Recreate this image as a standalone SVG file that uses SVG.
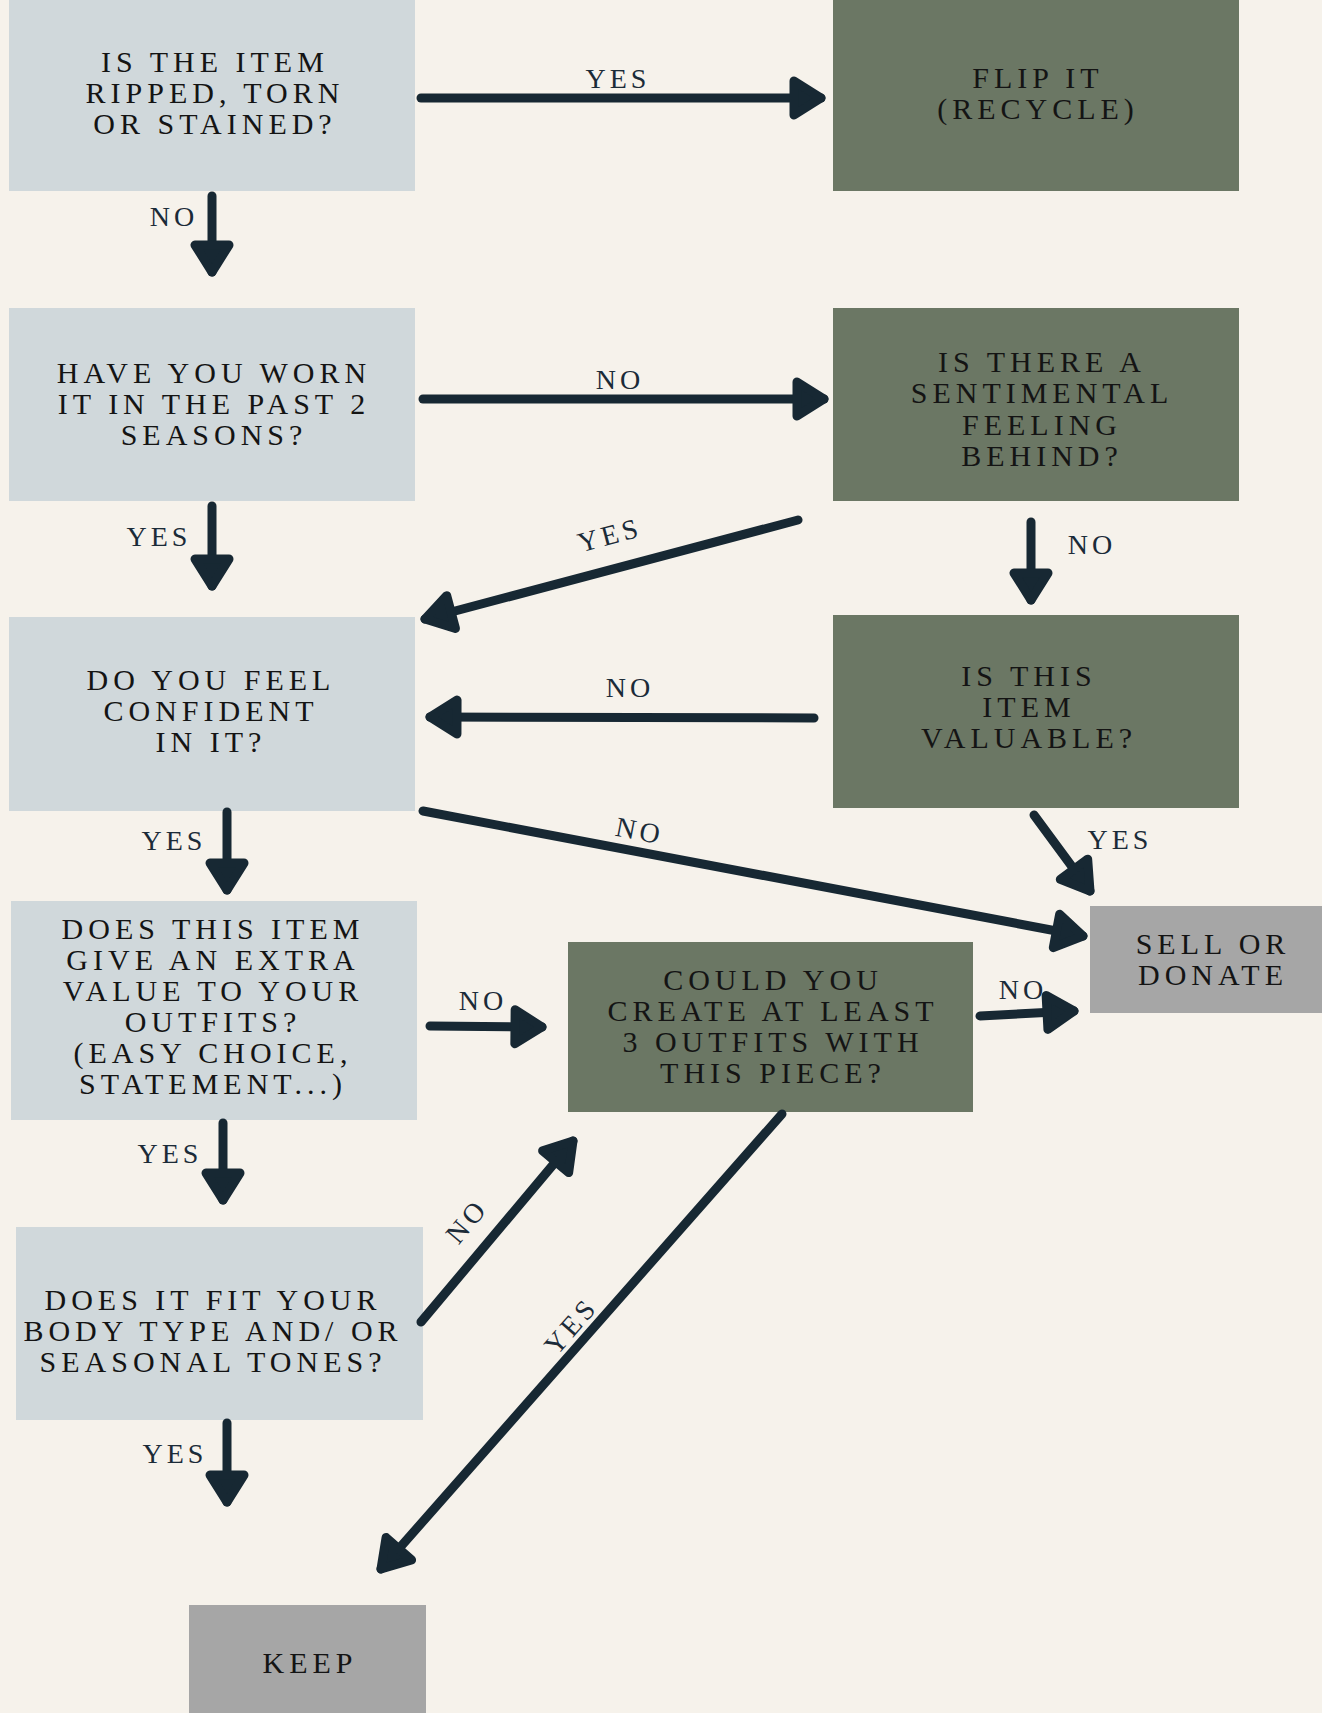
<svg xmlns="http://www.w3.org/2000/svg" width="1322" height="1713" viewBox="0 0 1322 1713">
<style>
.bg{fill:#F6F2EB}
.q{fill:#D0D8DB}
.g{fill:#6B7764}
.e{fill:#A6A6A6}
.t{font-family:"Liberation Serif","DejaVu Serif",serif;font-size:30px;letter-spacing:5px;fill:#141414;text-anchor:middle}
.l{font-family:"Liberation Serif","DejaVu Serif",serif;font-size:28px;letter-spacing:4px;fill:#1B2B38;text-anchor:middle}
.c{stroke:#172833;stroke-width:9;stroke-linecap:round;fill:none}
</style>
<defs>
<marker id="ah" markerUnits="userSpaceOnUse" markerWidth="60" markerHeight="60" viewBox="-40 -30 50 60" refX="0" refY="0" orient="auto" overflow="visible">
<path d="M -27 -17 L 0 0 L -27 17 Z" fill="#172833" stroke="#172833" stroke-width="9" stroke-linejoin="round"/>
</marker>
</defs>
<rect class="bg" x="0" y="0" width="1322" height="1713"/>

<g id="n1"><rect class="q" x="9" y="0" width="406" height="191"/>
<text class="t" x="215" y="72">IS THE ITEM</text><text class="t" x="215" y="103">RIPPED, TORN</text><text class="t" x="215" y="134">OR STAINED?</text></g>

<g id="n2"><rect class="g" x="833" y="0" width="406" height="191"/>
<text class="t" x="1038" y="88">FLIP IT</text><text class="t" x="1038" y="119">(RECYCLE)</text></g>

<g id="n3"><rect class="q" x="9" y="308" width="406" height="193"/>
<text class="t" x="214" y="383">HAVE YOU WORN</text><text class="t" x="214" y="414">IT IN THE PAST 2</text><text class="t" x="214" y="445">SEASONS?</text></g>

<g id="n4"><rect class="g" x="833" y="308" width="406" height="193"/>
<text class="t" x="1042" y="372">IS THERE A</text><text class="t" x="1042" y="403">SENTIMENTAL</text><text class="t" x="1042" y="435">FEELING</text><text class="t" x="1042" y="466">BEHIND?</text></g>

<g id="n5"><rect class="q" x="9" y="617" width="406" height="194"/>
<text class="t" x="211" y="690">DO YOU FEEL</text><text class="t" x="211" y="721">CONFIDENT</text><text class="t" x="211" y="752">IN IT?</text></g>

<g id="n6"><rect class="g" x="833" y="615" width="406" height="193"/>
<text class="t" x="1029" y="686">IS THIS</text><text class="t" x="1029" y="717">ITEM</text><text class="t" x="1029" y="748">VALUABLE?</text></g>

<g id="n7"><rect class="q" x="11" y="901" width="406" height="219"/>
<text class="t" x="213" y="939">DOES THIS ITEM</text><text class="t" x="213" y="970">GIVE AN EXTRA</text><text class="t" x="213" y="1001">VALUE TO YOUR</text><text class="t" x="213" y="1032">OUTFITS?</text><text class="t" x="213" y="1063">(EASY CHOICE,</text><text class="t" x="213" y="1094">STATEMENT...)</text></g>

<g id="n8"><rect class="g" x="568" y="942" width="405" height="170"/>
<text class="t" x="773" y="990">COULD YOU</text><text class="t" x="773" y="1021">CREATE AT LEAST</text><text class="t" x="773" y="1052">3 OUTFITS WITH</text><text class="t" x="773" y="1083">THIS PIECE?</text></g>

<g id="n9"><rect class="e" x="1090" y="906" width="232" height="107"/>
<text class="t" x="1213" y="954">SELL OR</text><text class="t" x="1213" y="985">DONATE</text></g>

<g id="n10"><rect class="q" x="16" y="1227" width="407" height="193"/>
<text class="t" x="213" y="1310">DOES IT FIT YOUR</text><text class="t" x="213" y="1341">BODY TYPE AND/ OR</text><text class="t" x="213" y="1372">SEASONAL TONES?</text></g>

<g id="n11"><rect class="e" x="189" y="1605" width="237" height="108"/>
<text class="t" x="310" y="1673">KEEP</text></g>

<g id="connectors">
<path class="c" marker-end="url(#ah)" d="M421 98 L821 98"/>
<text class="l" x="618" y="88">YES</text>
<path class="c" marker-end="url(#ah)" d="M212 196 L212 272"/>
<text class="l" x="174" y="226">NO</text>
<path class="c" marker-end="url(#ah)" d="M423 399 L824 399"/>
<text class="l" x="620" y="389">NO</text>
<path class="c" marker-end="url(#ah)" d="M212 506 L212 586"/>
<text class="l" x="159" y="546">YES</text>
<path class="c" marker-end="url(#ah)" d="M798 520 L425 619"/>
<text class="l" x="0" y="0" transform="translate(612 544) rotate(-15)">YES</text>
<path class="c" marker-end="url(#ah)" d="M1031 522 L1031 600"/>
<text class="l" x="1092" y="554">NO</text>
<path class="c" marker-end="url(#ah)" d="M814 718 L430 717"/>
<text class="l" x="630" y="697">NO</text>
<path class="c" marker-end="url(#ah)" d="M227 812 L227 890"/>
<text class="l" x="174" y="850">YES</text>
<path class="c" marker-end="url(#ah)" d="M423 811 L1083 936"/>
<text class="l" x="0" y="0" transform="translate(638 840) rotate(11)">NO</text>
<path class="c" marker-end="url(#ah)" d="M1034 815 L1090 891"/>
<text class="l" x="1120" y="849">YES</text>
<path class="c" marker-end="url(#ah)" d="M430 1026 L542 1027"/>
<text class="l" x="483" y="1010">NO</text>
<path class="c" marker-end="url(#ah)" d="M980 1016 L1074 1011"/>
<text class="l" x="1023" y="999">NO</text>
<path class="c" marker-end="url(#ah)" d="M223 1123 L223 1200"/>
<text class="l" x="170" y="1163">YES</text>
<path class="c" marker-end="url(#ah)" d="M421 1322 L573 1141"/>
<text class="l" x="0" y="0" transform="translate(474 1227) rotate(-50)">NO</text>
<path class="c" marker-end="url(#ah)" d="M227 1423 L227 1502"/>
<text class="l" x="175" y="1463">YES</text>
<path class="c" marker-end="url(#ah)" d="M782 1114 L381 1569"/>
<text class="l" x="0" y="0" transform="translate(578 1332) rotate(-49)">YES</text>
</g>
</svg>
